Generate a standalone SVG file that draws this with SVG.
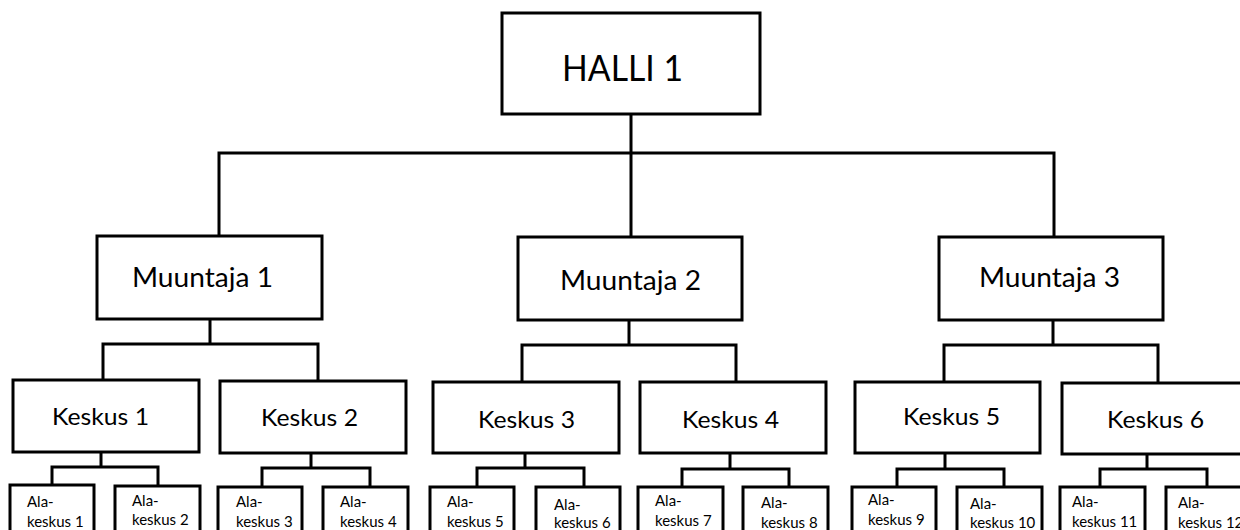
<svg xmlns="http://www.w3.org/2000/svg" width="1240" height="530" viewBox="0 0 1240 530">
<style>
.box{fill:#fff;stroke:#000;stroke-width:3}
.ln{fill:none;stroke:#000;stroke-width:3;stroke-linecap:square}
text{font-family:Lato,"Open Sans","Liberation Sans",sans-serif;fill:#000}
.t1{font-size:36px}
.t2{font-size:27px}
.t3{font-size:24px}
.t4{font-size:15px}
</style>
<rect width="1240" height="530" fill="#fff"/>
<g id="connectors">
<path class="ln" d="M631 114V236M219 153H1054M219 153V236M1054 153V236"/>
<path class="ln" d="M210 320V344M103 344H318M103 344V380M318 344V380"/>
<path class="ln" d="M629 320V345M522 345H736M522 345V382M736 345V382"/>
<path class="ln" d="M1053 320V345M944 345H1158M944 345V382M1158 345V382"/>
<path class="ln" d="M101 452V467M52 467H158M52 467V485M158 467V485"/>
<path class="ln" d="M311 453V468M262 468H370M262 468V487M370 468V487"/>
<path class="ln" d="M525 453V468M477 468H584M477 468V487M584 468V487"/>
<path class="ln" d="M730 453V469M682 469H789M682 469V487M789 469V487"/>
<path class="ln" d="M945 453V469M897 469H1004M897 469V487M1004 469V487"/>
<path class="ln" d="M1147 454V469M1100 469H1207M1100 469V487M1207 469V487"/>
</g>
<g id="halli"><rect class="box" x="502" y="13" width="258" height="101"/><text class="t1" x="562" y="81" textLength="121" lengthAdjust="spacingAndGlyphs">HALLI 1</text></g>
<g id="muuntaja1"><rect class="box" x="97" y="236" width="225" height="83"/><text class="t2" x="132" y="287" textLength="141" lengthAdjust="spacingAndGlyphs">Muuntaja 1</text></g>
<g id="muuntaja2"><rect class="box" x="518" y="237" width="224" height="83"/><text class="t2" x="560" y="290" textLength="141" lengthAdjust="spacingAndGlyphs">Muuntaja 2</text></g>
<g id="muuntaja3"><rect class="box" x="939" y="237" width="224" height="83"/><text class="t2" x="979" y="287" textLength="141" lengthAdjust="spacingAndGlyphs">Muuntaja 3</text></g>
<g id="keskus1"><rect class="box" x="13" y="380" width="186" height="72"/><text class="t3" x="52" y="425" textLength="97" lengthAdjust="spacingAndGlyphs">Keskus 1</text></g>
<g id="keskus2"><rect class="box" x="220" y="381" width="186" height="72"/><text class="t3" x="261" y="426" textLength="97" lengthAdjust="spacingAndGlyphs">Keskus 2</text></g>
<g id="keskus3"><rect class="box" x="433" y="382" width="186" height="71"/><text class="t3" x="478" y="428" textLength="97" lengthAdjust="spacingAndGlyphs">Keskus 3</text></g>
<g id="keskus4"><rect class="box" x="640" y="382" width="186" height="71"/><text class="t3" x="682" y="428" textLength="97" lengthAdjust="spacingAndGlyphs">Keskus 4</text></g>
<g id="keskus5"><rect class="box" x="855" y="382" width="185" height="71"/><text class="t3" x="903" y="425" textLength="97" lengthAdjust="spacingAndGlyphs">Keskus 5</text></g>
<g id="keskus6"><rect class="box" x="1062" y="383" width="190" height="71"/><text class="t3" x="1107" y="428" textLength="97" lengthAdjust="spacingAndGlyphs">Keskus 6</text></g>
<g id="ala1"><rect class="box" x="10" y="485" width="84" height="60"/><text class="t4" x="27" y="507">Ala-</text><text class="t4" x="27" y="527">keskus 1</text></g>
<g id="ala2"><rect class="box" x="115" y="486" width="85" height="60"/><text class="t4" x="132" y="506">Ala-</text><text class="t4" x="132" y="525">keskus 2</text></g>
<g id="ala3"><rect class="box" x="218" y="487" width="84" height="60"/><text class="t4" x="236" y="507">Ala-</text><text class="t4" x="236" y="527">keskus 3</text></g>
<g id="ala4"><rect class="box" x="323" y="487" width="85" height="60"/><text class="t4" x="340" y="507">Ala-</text><text class="t4" x="340" y="527">keskus 4</text></g>
<g id="ala5"><rect class="box" x="430" y="487" width="84" height="60"/><text class="t4" x="447" y="507">Ala-</text><text class="t4" x="447" y="527">keskus 5</text></g>
<g id="ala6"><rect class="box" x="536" y="487" width="84" height="60"/><text class="t4" x="554" y="510">Ala-</text><text class="t4" x="554" y="528">keskus 6</text></g>
<g id="ala7"><rect class="box" x="638" y="487" width="85" height="60"/><text class="t4" x="655" y="506">Ala-</text><text class="t4" x="655" y="526">keskus 7</text></g>
<g id="ala8"><rect class="box" x="743" y="487" width="85" height="60"/><text class="t4" x="761" y="508">Ala-</text><text class="t4" x="761" y="528">keskus 8</text></g>
<g id="ala9"><rect class="box" x="852" y="487" width="84" height="60"/><text class="t4" x="868" y="505">Ala-</text><text class="t4" x="868" y="525">keskus 9</text></g>
<g id="ala10"><rect class="box" x="957" y="487" width="85" height="60"/><text class="t4" x="970" y="509">Ala-</text><text class="t4" x="970" y="528">keskus 10</text></g>
<g id="ala11"><rect class="box" x="1060" y="487" width="85" height="60"/><text class="t4" x="1072" y="507">Ala-</text><text class="t4" x="1072" y="527">keskus 11</text></g>
<g id="ala12"><rect class="box" x="1166" y="487" width="85" height="60"/><text class="t4" x="1178" y="508">Ala-</text><text class="t4" x="1178" y="528">keskus 12</text></g>
</svg>
